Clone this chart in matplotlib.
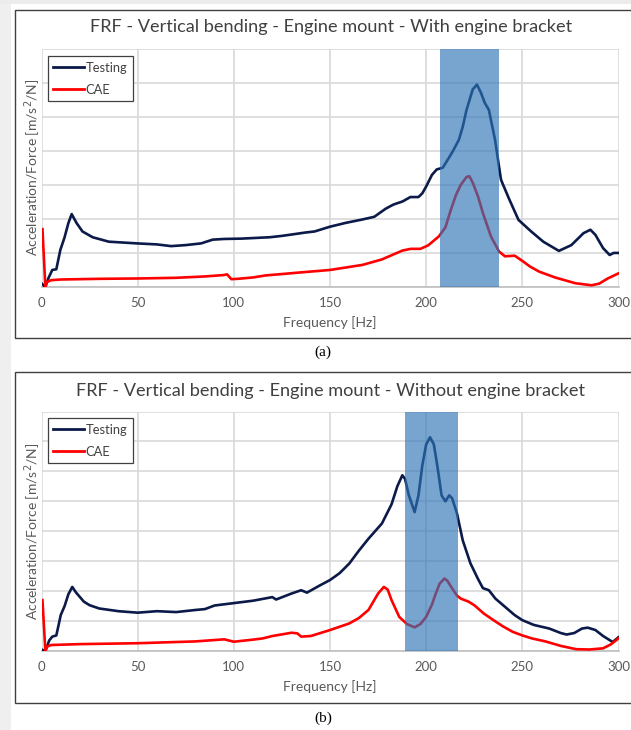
import matplotlib
matplotlib.use("Agg")
import matplotlib.pyplot as plt
from matplotlib.patches import Rectangle
from matplotlib.lines import Line2D

# ---------------- data ----------------
title_a = "FRF - Vertical bending - Engine mount - With engine bracket"
title_b = "FRF - Vertical bending - Engine mount - Without engine bracket"
xlabel = "Frequency [Hz]"
ylabel = "Acceleration/Force [m/s$^2$/N]"
series_names = ["Testing", "CAE"]
xticks = [0, 50, 100, 150, 200, 250, 300]
band_a = (207, 238)
band_b = (189, 216.5)

test_a_f = [0, 1.9, 3.6, 5.6, 7.7, 9.8, 11.9, 14, 15.7, 18.2, 21.3, 26.6, 35, 49.6, 60, 67.4,
            75, 83, 89, 95, 104, 118.6, 125, 130, 137.4, 142, 150, 158, 166.7, 173, 179,
            183, 187.7, 191.8, 196, 198, 200, 203, 205.5, 208.6, 211.7, 214, 217, 219,
            221, 224.2, 226.4, 228.5, 230.5, 232.6, 235.8, 238.9, 240, 243, 248, 254.6,
            260.9, 269, 275.5, 281.8, 285.4, 288, 292, 295.4, 297.5, 300]
test_a_v = [0.11, 0.0, 0.26, 0.5, 0.52, 1.09, 1.44, 1.88, 2.14, 1.88, 1.63, 1.46, 1.33, 1.28, 1.25, 1.2,
            1.23, 1.28, 1.39, 1.41, 1.42, 1.46, 1.5, 1.54, 1.6, 1.63, 1.77, 1.88, 1.98, 2.06, 2.3,
            2.42, 2.51, 2.64, 2.64, 2.75, 2.95, 3.29, 3.45, 3.5, 3.78, 4.0, 4.32, 4.7,
            5.2, 5.8, 5.94, 5.7, 5.4, 5.2, 4.32, 3.15, 3.0, 2.6, 1.97, 1.63,
            1.33, 1.06, 1.23, 1.58, 1.68, 1.53, 1.14, 0.94, 1.0, 1.0]

cae_a_f = [0.5, 2, 3, 5, 10, 30, 50, 70, 85, 94.6, 96.5, 98.7, 102, 110, 116.5, 125, 133,
           150, 167, 177, 187.7, 192, 197, 201, 206.5, 210, 212.8, 215.5, 218, 221, 222.5,
           224.3, 227, 229.5, 233.7, 237.9, 241, 246, 250.4, 254, 258.8, 267, 277.6, 286,
           290, 294.4, 300]
cae_a_v = [1.7, 0.0, 0.15, 0.2, 0.22, 0.24, 0.25, 0.27, 0.31, 0.35, 0.37, 0.23, 0.24, 0.28, 0.34, 0.38, 0.42,
           0.5, 0.65, 0.81, 1.07, 1.12, 1.12, 1.22, 1.48, 1.75, 2.26, 2.7, 3.0, 3.23, 3.25,
           3.05, 2.65, 2.17, 1.48, 1.04, 0.9, 0.92, 0.75, 0.6, 0.45, 0.28, 0.11, 0.05,
           0.1, 0.25, 0.4]

test_b_f = [0, 2, 4, 5.6, 7.7, 9, 10, 12, 14, 16, 18, 20, 22, 25, 30, 40, 50, 60, 70, 80,
            85, 90, 100, 110, 120, 122, 130, 135, 138, 145, 150, 155, 160, 165, 170, 177,
            182, 185, 187.6, 189, 191, 194, 196, 198, 200, 202, 204, 206, 208, 210, 212,
            213.5, 216, 219, 223, 227, 229.5, 232.6, 236, 240, 242, 246, 250, 256, 264,
            270, 273, 277, 281, 284, 288, 292, 297, 300]
test_b_v = [0.05, 0.0, 0.35, 0.48, 0.52, 0.9, 1.2, 1.5, 1.9, 2.14, 1.95, 1.8, 1.65, 1.53, 1.42, 1.33, 1.28, 1.33, 1.3, 1.37,
            1.4, 1.52, 1.6, 1.68, 1.8, 1.72, 1.92, 2.03, 1.95, 2.2, 2.37, 2.6, 2.92, 3.35, 3.75, 4.26,
            4.9, 5.5, 5.87, 5.75, 5.2, 4.64, 5.2, 6.2, 6.9, 7.14, 6.9, 6.1, 5.2, 5.0, 5.2,
            5.1, 4.6, 3.7, 2.93, 2.4, 2.1, 2.03, 1.75, 1.53, 1.42, 1.2, 1.03, 0.87, 0.75,
            0.6, 0.55, 0.6, 0.75, 0.78, 0.7, 0.5, 0.3, 0.46]

cae_b_f = [0.5, 2, 3, 5, 20, 50, 80, 95, 100, 110, 115, 120, 130, 133, 135, 140, 150, 160,
           165, 170, 175, 178, 180, 182, 186, 190, 194, 197, 200, 203, 205, 207, 209.5, 211,
           213, 216, 218, 222, 225, 230, 235, 240, 245, 250, 255, 262, 270, 278, 285, 292,
           296, 300]
cae_b_v = [1.7, 0.0, 0.15, 0.2, 0.23, 0.26, 0.32, 0.39, 0.31, 0.38, 0.42, 0.5, 0.61, 0.59, 0.48, 0.5, 0.7, 0.92,
           1.1, 1.37, 1.92, 2.14, 2.05, 1.7, 1.14, 0.9, 0.79, 0.9, 1.14, 1.55, 1.92, 2.25, 2.42, 2.35,
           2.14, 1.85, 1.75, 1.65, 1.53, 1.25, 1.03, 0.82, 0.64, 0.52, 0.42, 0.32, 0.17, 0.06, 0.05, 0.09,
           0.22, 0.42]

# ---------------- styling ----------------
W, H = 631, 730
FONT = ["Lato", "DejaVu Sans"]
NAVY = "#0b1a48"
RED = "#ff0000"
BAND = "#2e75b6"
GRID = "#d6d6d6"
TXT = "#595959"

fig = plt.figure(figsize=(W / 100, H / 100), dpi=100)
fig.patch.set_facecolor("white")

def fx(px):
    return px / W

def fy(py):
    return 1 - py / H

# light gray page strips (left and top)
fig.patches.append(Rectangle((0, 0), fx(11), 1, transform=fig.transFigure,
                             facecolor="#efefef", edgecolor="none", zorder=-6))
fig.patches.append(Rectangle((0, fy(4)), 1, fy(0) - fy(4), transform=fig.transFigure,
                             facecolor="#ececec", edgecolor="none", zorder=-6))

def panel(frame_top, frame_bot, ax_top, ax_bot, title, title_y, ymax, band,
          tf, tv, cf, cv, leg_top, caption, cap_y):
    fig.patches.append(Rectangle((fx(15), fy(frame_bot)), fx(640 - 15),
                                 fy(frame_top) - fy(frame_bot), transform=fig.transFigure,
                                 facecolor="white", edgecolor="#404040", lw=1.0, zorder=-5))
    ax = fig.add_axes([fx(41.5), fy(ax_bot), fx(618.5) - fx(41.5), fy(ax_top) - fy(ax_bot)])
    ax.set_zorder(1)
    ax.patch.set_alpha(0)
    ax.set_xlim(0, 300)
    ax.set_ylim(0, ymax)
    ax.set_xticks(xticks)
    ax.set_yticks(range(0, ymax + 1))
    ax.tick_params(axis="y", left=False, labelleft=False)
    ax.tick_params(axis="x", length=0, pad=7, labelsize=9.5, labelcolor=TXT)
    for lab in ax.get_xticklabels():
        lab.set_family(FONT)
    ax.grid(True, color=GRID, lw=1.1)
    ax.set_axisbelow(True)
    for s in ["top", "right", "left"]:
        ax.spines[s].set_visible(False)
    ax.spines["bottom"].set_color("#bfbfbf")
    ax.spines["bottom"].set_linewidth(1.2)
    ax.plot(tf, tv, color=NAVY, lw=1.9, label=series_names[0], zorder=3)
    ax.plot(cf, cv, color=RED, lw=1.9, label=series_names[1], zorder=3)
    ax.axvspan(band[0], band[1], color=BAND, alpha=0.65, lw=0, zorder=4)
    ax.set_xlabel(xlabel, fontsize=10, color=TXT, family=FONT, labelpad=5)
    fig.text(fx(33), fy((ax_top + ax_bot) / 2), ylabel, rotation=90, ha="center",
             va="center", fontsize=10, color=TXT, family=FONT)
    fig.text(fx(331), fy(title_y), title, ha="center", va="center", fontsize=13.1,
             color="#404040", family=FONT)
    handles = [Line2D([], [], color=NAVY, lw=2), Line2D([], [], color=RED, lw=2)]
    leg = fig.legend(handles, series_names, loc="upper left",
                     bbox_to_anchor=(fx(47.5), fy(leg_top)), bbox_transform=fig.transFigure,
                     frameon=True, fancybox=False, edgecolor="#404040", framealpha=1,
                     prop={"family": FONT, "size": 9.3}, handlelength=2.4, handletextpad=0.1,
                     labelspacing=0.75, borderpad=0.45, borderaxespad=0)
    leg.set_zorder(5)
    leg.get_frame().set_linewidth(0.9)
    for t in leg.get_texts():
        t.set_color("#404040")
    fig.text(fx(323), fy(cap_y), caption, ha="center", va="center", fontsize=11,
             family="Liberation Serif", color="black")

panel(10, 338, 48.5, 287, title_a, 27, 7, band_a, test_a_f, test_a_v, cae_a_f, cae_a_v,
      56, "(a)", 352)
panel(372, 703, 411.5, 651, title_b, 391, 8, band_b, test_b_f, test_b_v, cae_b_f, cae_b_v,
      418, "(b)", 718)

fig.savefig("out.png", dpi=100, facecolor="white")
